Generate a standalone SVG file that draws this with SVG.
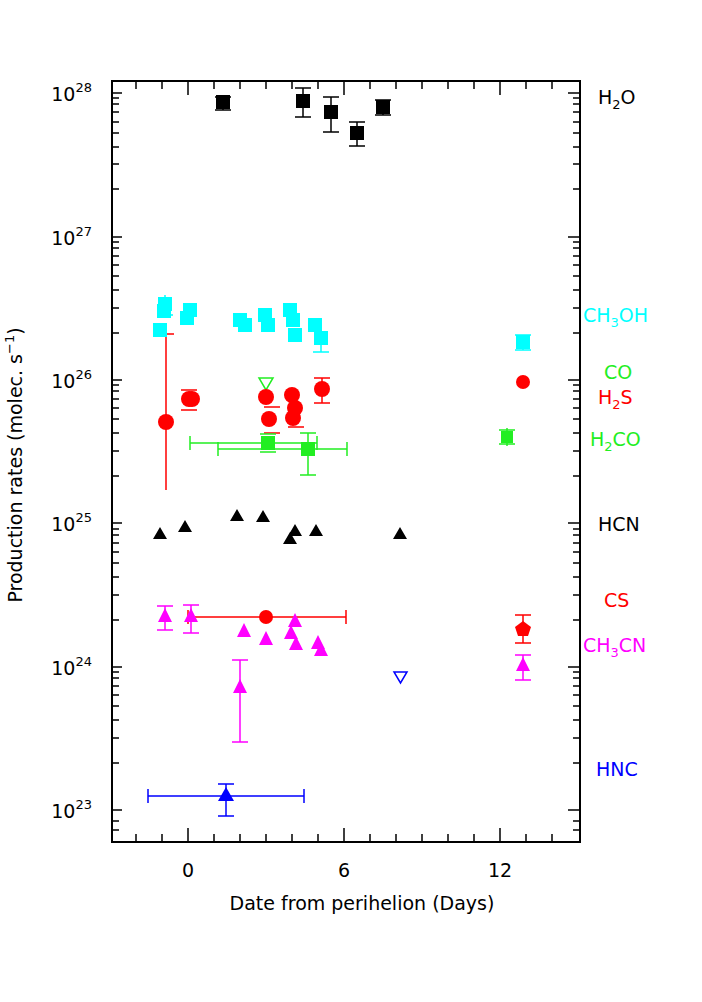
<svg xmlns="http://www.w3.org/2000/svg" width="702" height="1002" viewBox="0 0 702 1002">
<style>
text{font-family:"DejaVu Sans","Liberation Sans",sans-serif;font-size:19px}
.ax{stroke:#000;stroke-width:2;fill:none}
.t{stroke:#000;stroke-width:1.5}
.e{stroke-width:1.5;fill:none}
.k{stroke:#000}.c{stroke:#00ffff}.r{stroke:#ff0000}.g{stroke:#22ee22}.m{stroke:#ff00ff}.b{stroke:#0000ff}
</style>
<rect width="702" height="1002" fill="#fff"/>
<g id="axes">
<rect x="112" y="81" width="468" height="761" class="ax"/>
<path class="t" d="M136,842v-8M162,842v-8M214,842v-8M240,842v-8M266,842v-8M292,842v-8M318,842v-8M370,842v-8M396,842v-8M422,842v-8M448,842v-8M474,842v-8M526,842v-8M552,842v-8M188,842v-14M344,842v-14M500,842v-14
M136,81v8M162,81v8M214,81v8M240,81v8M266,81v8M292,81v8M318,81v8M370,81v8M396,81v8M422,81v8M448,81v8M474,81v8M526,81v8M552,81v8M188,81v14M344,81v14M500,81v14"/>
<path class="t" d="M112,93h10M112,237h10M112,380h10M112,523h10M112,667h10M112,810h10M568,93h12M568,237h12M568,380h12M568,523h12M568,667h12M568,810h12"/>
<path class="t" d="M112,830h7M112,821h7M112,189h7M112,164h7M112,147h7M112,133h7M112,122h7M112,112h7M112,104h7M112,98h7
M112,333h7M112,308h7M112,290h7M112,276h7M112,265h7M112,256h7M112,248h7M112,242h7
M112,476h7M112,451h7M112,433h7M112,419h7M112,408h7M112,399h7M112,391h7M112,385h7
M112,620h7M112,595h7M112,577h7M112,563h7M112,552h7M112,543h7M112,535h7M112,529h7
M112,763h7M112,738h7M112,720h7M112,706h7M112,695h7M112,686h7M112,678h7M112,672h7
M573,830h7M573,821h7M573,189h7M573,164h7M573,147h7M573,133h7M573,122h7M573,112h7M573,104h7M573,98h7
M573,333h7M573,308h7M573,290h7M573,276h7M573,265h7M573,256h7M573,248h7M573,242h7
M573,476h7M573,451h7M573,433h7M573,419h7M573,408h7M573,399h7M573,391h7M573,385h7
M573,620h7M573,595h7M573,577h7M573,563h7M573,552h7M573,543h7M573,535h7M573,529h7
M573,763h7M573,738h7M573,720h7M573,706h7M573,695h7M573,686h7M573,678h7M573,672h7"/>
<text x="188" y="877" text-anchor="middle">0</text>
<text x="344" y="877" text-anchor="middle">6</text>
<text x="500" y="877" text-anchor="middle">12</text>
<text x="362" y="910" text-anchor="middle">Date from perihelion (Days)</text>
<g text-anchor="end">
<text x="92" y="101">10<tspan dy="-9" font-size="13">28</tspan></text>
<text x="92" y="245">10<tspan dy="-9" font-size="13">27</tspan></text>
<text x="92" y="388">10<tspan dy="-9" font-size="13">26</tspan></text>
<text x="92" y="531">10<tspan dy="-9" font-size="13">25</tspan></text>
<text x="92" y="675">10<tspan dy="-9" font-size="13">24</tspan></text>
<text x="92" y="818">10<tspan dy="-9" font-size="13">23</tspan></text>
</g>
<text transform="translate(22,465) rotate(-90)" text-anchor="middle">Production rates (molec. s<tspan dy="-8" font-size="13">−1</tspan><tspan dy="8">)</tspan></text>
</g>
<g id="labels">
<text x="598" y="104">H<tspan dy="5" font-size="13">2</tspan><tspan dy="-5">O</tspan></text>
<text x="583" y="322" fill="#00ffff">CH<tspan dy="5" font-size="13">3</tspan><tspan dy="-5">OH</tspan></text>
<text x="604" y="379" fill="#22ee22">CO</text>
<text x="598" y="404" fill="#ff0000">H<tspan dy="5" font-size="13">2</tspan><tspan dy="-5">S</tspan></text>
<text x="590" y="446" fill="#22ee22">H<tspan dy="5" font-size="13">2</tspan><tspan dy="-5">CO</tspan></text>
<text x="598" y="531">HCN</text>
<text x="604" y="607" fill="#ff0000">CS</text>
<text x="583" y="652" fill="#ff00ff">CH<tspan dy="5" font-size="13">3</tspan><tspan dy="-5">CN</tspan></text>
<text x="596" y="776" fill="#0000ff">HNC</text>
</g>
<g id="connectors">
<path class="e k" d="M223,97v13M215,97h16M215,110h16M303,88v29M295,88h16M295,117h16M331,97v35M323,97h16M323,132h16M357,122v24M349,122h16M349,146h16M383,100v15M375,100h16M375,115h16"/>
<path class="e c" d="M165,295v20M157,315h16M321,330v22M313,352h16M523,335v15M515,335h16M515,350h16"/>
<path class="e r" d="M166,334v156M158,334h16M181,390h16M181,410h16M322,378v25M314,378h16M314,403h16M523,376v12M264,407h16M264,433h16M288,427h16"/>
<path class="e g" d="M190,443h127M190,436v14M317,436v14M218,449h129M218,442v14M347,442v14M308,433v42M300,433h16M300,475h16M260,434h16M260,452h16M507,428v18M499,430h16M499,444h16"/>
<path class="e r" d="M188,617h158M188,610v14M346,610v14M523,615v28M515,615h16M515,643h16"/>
<path class="e m" d="M165,606v24M157,606h16M157,630h16M191,605v28M183,605h16M183,633h16M240,660v82M232,660h16M232,742h16M523,655v25M515,655h16M515,680h16"/>
<path class="e b" d="M148,796h156M148,789v14M304,789v14M226,784v32M218,784h16M218,816h16"/>
</g>
<g id="h2o" fill="#000"><rect x="216" y="95" width="14" height="14"/><rect x="296" y="94" width="14" height="14"/><rect x="324" y="105" width="14" height="14"/><rect x="350" y="126" width="14" height="14"/><rect x="376" y="100" width="14" height="14"/></g>
<g id="ch3oh" fill="#00ffff"><rect x="153" y="323" width="14" height="14"/><rect x="158" y="297" width="14" height="14"/><rect x="157" y="304" width="14" height="14"/><rect x="180" y="311" width="14" height="14"/><rect x="183" y="303" width="14" height="14"/><rect x="233" y="313" width="14" height="14"/><rect x="238" y="318" width="14" height="14"/><rect x="258" y="308" width="14" height="14"/><rect x="261" y="318" width="14" height="14"/><rect x="283" y="303" width="14" height="14"/><rect x="286" y="313" width="14" height="14"/><rect x="288" y="328" width="14" height="14"/><rect x="308" y="318" width="14" height="14"/><rect x="314" y="331" width="14" height="14"/><rect x="516" y="335" width="14" height="14"/></g>
<g id="co"><path d="M259,378h14l-7,12z" fill="none" stroke="#22ee22" stroke-width="1.5"/></g>
<g id="h2s" fill="#ff0000"><circle cx="166" cy="422" r="8"/><circle cx="189" cy="399" r="8"/><circle cx="192" cy="399" r="8"/><circle cx="266" cy="397" r="8"/><circle cx="269" cy="419" r="8"/><circle cx="292" cy="395" r="8"/><circle cx="295" cy="408" r="8"/><circle cx="293" cy="418" r="8"/><circle cx="322" cy="389" r="8"/><circle cx="523" cy="382" r="7"/></g>
<g id="h2co" fill="#22ee22"><rect x="261" y="436" width="14" height="14"/><rect x="301" y="442" width="14" height="14"/><rect x="501" y="431" width="12" height="12"/></g>
<g id="hcn" fill="#000"><path d="M160,527l7,12h-14zM185,520l7,12h-14zM237,509l7,12h-14zM263,510l7,12h-14zM290,532l7,12h-14zM295,524l7,12h-14zM316,524l7,12h-14zM400,527l7,12h-14z"/></g>
<g id="cs" fill="#ff0000"><circle cx="266" cy="617" r="7"/><path d="M523,621l8,6-3,9h-10l-3-9z"/></g>
<g id="ch3cn" fill="#ff00ff"><path d="M165,608l7,14h-14zM191,608l7,14h-14zM244,623l7,14h-14zM240,679l7,14h-14zM266,631l7,14h-14zM291,625l7,14h-14zM295,613l7,14h-14zM296,636l7,14h-14zM318,635l7,14h-14zM321,642l7,14h-14zM523,657l7,14h-14z"/></g>
<g id="hnc"><path d="M226,787l8,14h-16z" fill="#0000ff"/><path d="M394,672h13l-6.5,11z" fill="none" stroke="#0000ff" stroke-width="1.5"/></g>
</svg>
